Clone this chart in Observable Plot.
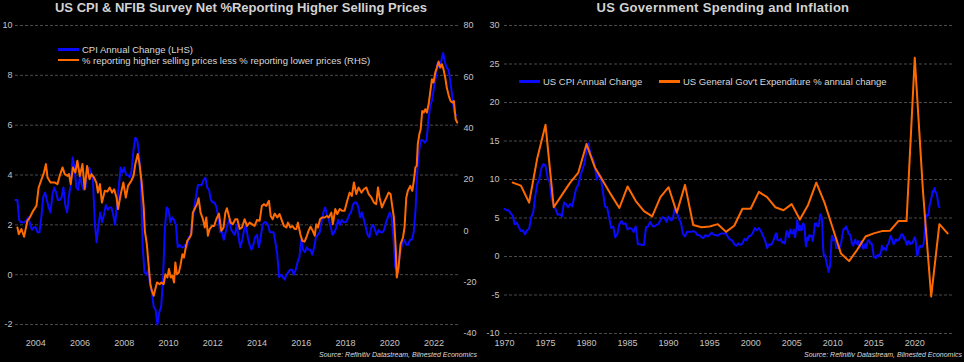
<!DOCTYPE html>
<html>
<head>
<meta charset="utf-8">
<script src="https://cdn.jsdelivr.net/npm/d3@7"></script>
<script src="https://cdn.jsdelivr.net/npm/@observablehq/plot@0.6"></script>
<style>
  html, body { margin: 0; padding: 0; background: #000; }
  body { width: 964px; height: 362px; overflow: hidden; font-family: "Liberation Sans", Arial, sans-serif; }
  #wrap { display: flex; width: 964px; height: 362px; }
  .panel { position: relative; width: 482px; height: 362px; }
  .title { height: 20px; line-height: 16px; text-align: center; color: #d2d2d2; font-weight: bold; font-size: 13px; letter-spacing: 0.3px; white-space: nowrap; }
  .chart svg { display: block; }
  .leg { position: absolute; color: #d8d8d8; font-size: 9.5px; line-height: 10.5px; white-space: nowrap; }
  .sw { display: inline-block; width: 21px; height: 2.5px; vertical-align: middle; margin-right: 3px; position: relative; top: -1px; }
  .source { position: absolute; top: 351px; font-style: italic; font-size: 7px; color: #dddddd; white-space: nowrap; }
</style>
</head>
<body>
<div id="wrap">
  <div class="panel">
    <div class="title" style="letter-spacing:0">US CPI &amp; NFIB Survey Net %Reporting Higher Selling Prices</div>
    <div class="chart" id="c1"></div>
    <div class="leg" style="left:58px; top:45px;">
      <div><span class="sw" style="background:#0a0aff"></span>CPI Annual Change (LHS)</div>
      <div><span class="sw" style="background:#ff6a00"></span>% reporting higher selling prices less % reporting lower prices (RHS)</div>
    </div>
    <div class="source" style="right:5px;">Source: Refinitiv Datastream, Blinested Economics</div>
  </div>
  <div class="panel">
    <div class="title">US Government Spending and Inflation</div>
    <div class="chart" id="c2"></div>
    <div class="leg" style="left:37px; top:77px;"><span class="sw" style="background:#0a0aff"></span>US CPI Annual Change</div>
    <div class="leg" style="left:177px; top:77px;"><span class="sw" style="background:#ff6a00"></span>US General Gov't Expenditure % annual change</div>
    <div class="source" style="right:2px;">Source: Refinitiv Datastream, Blinested Economics</div>
  </div>
</div>
<script>
// ---------- DATA ----------
// US CPI annual % change, monthly, Feb 2003 .. Jan 2023
const cpiMonthlyStart = 2003 + 1 / 12;
const cpiMonthly = [
  3.0, 3.0, 2.2, 2.1, 2.1, 2.1, 2.2, 2.3, 2.0, 1.8, 1.9,
  1.9, 1.7, 1.7, 2.3, 3.1, 3.3, 3.0, 2.7, 2.5, 3.2, 3.5, 3.3,
  3.0, 3.0, 3.1, 3.5, 2.8, 2.5, 3.2, 3.6, 4.7, 4.3, 3.5, 3.4,
  4.0, 3.6, 3.4, 3.5, 4.2, 4.3, 4.1, 3.8, 2.1, 1.3, 2.0, 2.5,
  2.1, 2.4, 2.8, 2.6, 2.7, 2.7, 2.4, 2.0, 2.8, 3.5, 4.3, 4.1,
  4.3, 4.0, 4.0, 3.9, 4.2, 5.0, 5.5, 5.4, 4.9, 3.7, 1.1, 0.1,
  0.0, 0.2, -0.4, -0.7, -1.3, -1.4, -2.0, -1.5, -1.3, -0.2, 1.8, 2.7,
  2.6, 2.1, 2.3, 2.2, 2.0, 1.1, 1.2, 1.1, 1.1, 1.2, 1.1, 1.5,
  1.6, 2.1, 2.7, 3.2, 3.6, 3.6, 3.6, 3.8, 3.9, 3.5, 3.4, 3.0,
  2.9, 2.9, 2.7, 2.3, 1.7, 1.7, 1.4, 1.7, 2.0, 2.2, 1.8, 1.7,
  1.6, 2.0, 1.5, 1.1, 1.4, 1.8, 2.0, 1.5, 1.2, 1.0, 1.2, 1.5,
  1.6, 1.1, 1.5, 2.0, 2.1, 2.1, 2.0, 1.7, 1.7, 1.7, 1.3, 0.8,
  -0.1, 0.0, -0.1, -0.2, 0.0, 0.1, 0.2, 0.2, 0.0, 0.2, 0.5, 0.7,
  1.4, 1.0, 0.9, 1.1, 1.0, 1.0, 0.8, 1.1, 1.5, 1.6, 1.7, 2.1,
  2.5, 2.7, 2.4, 2.2, 1.9, 1.6, 1.7, 1.9, 2.2, 2.0, 2.2, 2.1,
  2.1, 2.2, 2.4, 2.5, 2.8, 2.9, 2.9, 2.7, 2.3, 2.5, 2.2, 1.9,
  1.6, 1.5, 1.9, 2.0, 1.8, 1.6, 1.8, 1.7, 1.7, 1.8, 2.1, 2.3,
  2.5, 2.3, 1.5, 0.3, 0.1, 0.6, 1.0, 1.3, 1.4, 1.2, 1.2, 1.4,
  1.4, 1.7, 2.6, 4.2, 5.0, 5.4, 5.4, 5.3, 5.4, 6.2, 6.8, 7.0,
  7.5, 7.9, 8.5, 8.3, 8.6, 8.9, 8.5, 8.3, 8.2, 7.7, 7.1, 6.5,
  6.4
];

// US CPI annual % change, quarterly readings (Jan, Apr, Jul, Oct), 1970 .. 2002
const cpiQuarterlyStart = 1970;
const cpiQuarterly = [
  6.2, 6.0, 6.0, 5.6,   5.3, 4.2, 4.4, 3.8,   3.3, 3.4, 2.9, 3.4,   3.6, 5.1, 5.7, 7.9,
  9.4, 10.1, 11.5, 12.0, 11.8, 10.2, 9.7, 7.4, 6.7, 6.1, 5.4, 5.5,  5.2, 7.0, 6.8, 6.4,
  6.8, 6.5, 7.7, 8.9,   9.3, 10.5, 11.3, 12.1, 13.9, 14.7, 13.1, 12.8, 11.8, 10.0, 10.8, 10.1,
  8.4, 6.5, 6.4, 5.1,   3.7, 3.9, 2.5, 2.9,   4.2, 4.6, 4.2, 4.3,   3.5, 3.7, 3.6, 3.2,
  3.9, 1.6, 1.6, 1.5,   1.5, 3.8, 3.9, 4.5,   4.0, 3.9, 4.1, 4.2,   4.7, 5.1, 5.0, 4.5,
  5.2, 4.7, 4.8, 6.3,   5.7, 4.9, 4.4, 2.9,   2.6, 3.2, 3.2, 3.2,   3.3, 3.2, 2.8, 2.8,
  2.5, 2.4, 2.8, 2.6,   2.8, 3.1, 2.8, 2.8,   2.7, 2.9, 3.0, 3.0,   3.0, 2.5, 2.2, 2.1,
  1.6, 1.4, 1.7, 1.5,   1.7, 2.3, 2.1, 2.6,   2.7, 3.0, 3.7, 3.4,   3.7, 3.3, 2.7, 2.1,
  1.1, 1.6, 1.5, 2.0
];

// NFIB: % reporting higher selling prices less % reporting lower prices
const nfibDates = [
  2003.17, 2003.23, 2003.35, 2003.47, 2003.62, 2003.73, 2003.88, 2004.03, 2004.13, 2004.26,
  2004.37, 2004.46, 2004.53, 2004.62, 2004.68, 2004.86, 2004.98, 2005.08, 2005.21, 2005.31,
  2005.43, 2005.50, 2005.58, 2005.68, 2005.79, 2005.88, 2005.99, 2006.11, 2006.21, 2006.32,
  2006.43, 2006.52, 2006.63, 2006.74, 2006.81, 2006.90, 2006.99, 2007.12, 2007.24, 2007.34,
  2007.45, 2007.54, 2007.65, 2007.72, 2007.84, 2007.96, 2008.07, 2008.17, 2008.32, 2008.42,
  2008.50, 2008.61, 2008.69, 2008.78, 2008.88, 2008.93, 2009.02, 2009.11, 2009.18, 2009.25,
  2009.33, 2009.42, 2009.48, 2009.60, 2009.68, 2009.78, 2009.86, 2009.95, 2010.02, 2010.10,
  2010.18, 2010.25, 2010.31, 2010.38, 2010.47, 2010.55, 2010.63, 2010.70, 2010.78, 2010.85,
  2010.96, 2011.03, 2011.10, 2011.18, 2011.29, 2011.36, 2011.45, 2011.56, 2011.64, 2011.71,
  2011.78, 2011.86, 2011.97, 2012.06, 2012.16, 2012.28, 2012.39, 2012.49, 2012.57, 2012.64,
  2012.73, 2012.81, 2012.91, 2013.02, 2013.11, 2013.22, 2013.32, 2013.44, 2013.55, 2013.67,
  2013.77, 2013.89, 2014.00, 2014.12, 2014.22, 2014.31, 2014.42, 2014.54, 2014.62, 2014.71,
  2014.80, 2014.92, 2015.02, 2015.13, 2015.22, 2015.33, 2015.40, 2015.51, 2015.60, 2015.70,
  2015.78, 2015.85, 2015.96, 2016.05, 2016.15, 2016.23, 2016.33, 2016.42, 2016.52, 2016.61,
  2016.68, 2016.76, 2016.85, 2016.94, 2017.06, 2017.16, 2017.25, 2017.36, 2017.43, 2017.54,
  2017.63, 2017.74, 2017.84, 2017.96, 2018.08, 2018.19, 2018.29, 2018.38, 2018.49, 2018.59,
  2018.72, 2018.83, 2018.94, 2019.05, 2019.17, 2019.29, 2019.39, 2019.47, 2019.54, 2019.65,
  2019.74, 2019.85, 2019.95, 2020.04, 2020.10, 2020.19, 2020.27, 2020.32, 2020.40, 2020.49,
  2020.60, 2020.67, 2020.75, 2020.82, 2020.93, 2021.02, 2021.09, 2021.16, 2021.22, 2021.27,
  2021.34, 2021.40, 2021.47, 2021.54, 2021.61, 2021.68, 2021.76, 2021.83, 2021.91, 2021.98,
  2022.06, 2022.13, 2022.21, 2022.29, 2022.36, 2022.43, 2022.51, 2022.58, 2022.67, 2022.75,
  2022.83, 2022.90, 2022.98, 2023.05
];
const nfibValues = [
  1.3, -1.3, 0.7, -2.3, 3.9, 5.2, 7.8, 9.7, 16.9, 20.1,
  22.7, 26.0, 20.8, 19.5, 18.8, 18.8, 18.2, 21.4, 24.7, 22.1,
  21.4, 22.1, 18.2, 24.7, 22.7, 27.3, 21.4, 26.0, 16.2, 25.3,
  20.1, 22.1, 20.8, 18.8, 14.9, 18.2, 11.0, 15.6, 15.3, 16.9,
  14.9, 16.2, 13.0, 8.5, 14.3, 18.8, 13.0, 17.5, 19.5, 21.4,
  26.0, 29.9, 26.0, 19.5, 9.1, 0.0, -5.2, -14.3, -20.8, -23.4,
  -25.3, -22.1, -20.1, -20.8, -20.1, -20.8, -16.9, -18.2, -14.9, -18.2,
  -17.5, -20.1, -12.3, -16.9, -16.2, -13.0, -9.1, -10.4, -6.5, -3.9,
  -2.6, -1.3, 7.1, 8.5, 10.4, 12.7, 7.1, 4.5, 1.3, 5.2,
  -1.9, 0.7, 1.9, 1.9, 4.5, 6.7, 0.0, 1.3, 7.1, 8.8,
  5.8, 3.2, 2.6, 4.5, 4.5, 0.7, 1.3, 4.5, 1.9, 3.2,
  2.6, 1.9, 4.2, 3.9, 9.7, 10.4, 9.7, 11.7, 5.8, 4.5,
  6.7, 5.2, 6.5, 3.9, 1.9, 1.3, 3.2, 1.3, 1.9, 0.7,
  0.7, 3.2, -1.3, -3.9, -4.2, -2.6, 0.0, 1.6, 0.0, -1.9,
  2.6, 1.3, 4.5, 5.2, 5.2, 5.8, 5.2, 7.1, 2.6, 8.5,
  6.5, 8.5, 7.8, 7.8, 11.7, 14.9, 13.6, 18.8, 14.3, 16.9,
  14.9, 16.2, 16.9, 14.3, 13.0, 11.0, 10.4, 16.9, 13.0, 9.1,
  11.0, 13.0, 14.9, 14.3, 10.4, 5.2, -6.5, -18.2, -14.3, -5.2,
  -2.6, 1.3, 13.0, 15.6, 17.5, 15.6, 19.5, 24.7, 25.3, 33.8,
  37.7, 39.6, 46.7, 46.1, 47.4, 46.1, 49.4, 53.9, 59.1, 57.8,
  61.7, 63.6, 66.0, 63.6, 64.9, 63.0, 59.7, 55.8, 52.6, 50.6,
  50.0, 50.6, 43.5, 42.2
];

// US general government expenditure, % annual change, 1971 .. 2024
const govYearStart = 1971;
const govSpending = [
  9.6, 9.2, 7.0, 12.8, 17.1, 6.4, 8.0, 9.6, 10.9, 14.6,
  11.6, 9.8, 8.0, 6.3, 9.1, 7.2, 5.9, 5.2, 7.7, 9.0,
  5.7, 9.3, 4.1, 3.8, 3.9, 4.2, 3.2, 4.0, 6.2, 6.2,
  8.4, 7.7, 6.4, 6.0, 6.8, 4.8, 6.7, 9.6, 7.0, 3.7,
  0.4, -0.6, 0.9, 2.6, 3.0, 3.3, 3.35, 4.6, 4.6, 25.8,
  8.5, -5.2, 4.2, 3.0
];

// Axis ticks
const leftYTicks = [-2, 0, 2, 4, 6, 8, 10];
const rightYTicks = [-40, -20, 0, 20, 40, 60, 80];
const leftXTicks = [2004, 2006, 2008, 2010, 2012, 2014, 2016, 2018, 2020, 2022];
const rightPanelYTicks = [-10, -5, 0, 5, 10, 15, 20, 25, 30];
const rightPanelXTicks = [1970, 1975, 1980, 1985, 1990, 1995, 2000, 2005, 2010, 2015, 2020];

// ---------- BUILD ----------
const BLUE = "#0a0aff", ORANGE = "#ff6a00", GRID = "#4a4a4a", TICK = "#c4c4c4";
const cpiM = cpiMonthly.map((v, i) => ({x: cpiMonthlyStart + i / 12, y: v}));
const cpiQ = cpiQuarterly.map((v, i) => ({x: cpiQuarterlyStart + i / 4, y: v}));
const nfib = nfibDates.map((d, i) => ({x: d, v: nfibValues[i]}));
const gov = govSpending.map((v, i) => ({x: govYearStart + i, y: v}));

// dual axis: right-hand scale [-40, 80] shares the frame with left-hand [-2.36, 10]
const rhsToLhs = d3.scaleLinear([-40, 80], [-2.36, 10]);

const fmt = d => String(d);
const baseStyle = {background: "#000", color: TICK, fontSize: "9px", fontFamily: "'Liberation Sans', Arial, sans-serif"};

const left = Plot.plot({
  width: 482, height: 330,
  marginTop: 5, marginBottom: 17, marginLeft: 15, marginRight: 22,
  style: baseStyle,
  x: {type: "linear", domain: [2003.083, 2023.2]},
  y: {type: "linear", domain: [-2.36, 10]},
  marks: [
    Plot.gridY(leftYTicks, {stroke: GRID, strokeOpacity: 1, strokeDasharray: "3,2"}),
    Plot.axisY(leftYTicks, {tickSize: 0, tickPadding: 3, tickFormat: fmt, label: null, fill: TICK}),
    Plot.axisX(leftXTicks, {tickSize: 0, tickPadding: 6, tickFormat: fmt, label: null, fill: TICK}),
    Plot.text(rightYTicks, {y: d => rhsToLhs(d), text: fmt, frameAnchor: "right", textAnchor: "start", dx: 3, fill: TICK}),
    Plot.line(cpiM, {x: "x", y: "y", stroke: BLUE, strokeWidth: 2}),
    Plot.line(nfib, {x: "x", y: d => rhsToLhs(d.v), stroke: ORANGE, strokeWidth: 2})
  ]
});
document.getElementById("c1").appendChild(left);

const right = Plot.plot({
  width: 482, height: 330,
  marginTop: 5, marginBottom: 17, marginLeft: 22, marginRight: 12,
  style: baseStyle,
  x: {type: "linear", domain: [1970, 2024.6]},
  y: {type: "linear", domain: [-10, 30]},
  marks: [
    Plot.gridY(rightPanelYTicks, {stroke: GRID, strokeOpacity: 1, strokeDasharray: "3,2"}),
    Plot.axisY(rightPanelYTicks, {tickSize: 0, tickPadding: 5, tickFormat: fmt, label: null, fill: TICK}),
    Plot.axisX(rightPanelXTicks, {tickSize: 0, tickPadding: 6, tickFormat: fmt, label: null, fill: TICK}),
    Plot.line(cpiQ.concat(cpiM), {x: "x", y: "y", stroke: BLUE, strokeWidth: 2}),
    Plot.line(gov, {x: "x", y: "y", stroke: ORANGE, strokeWidth: 2})
  ]
});
document.getElementById("c2").appendChild(right);
</script>
</body>
</html>
